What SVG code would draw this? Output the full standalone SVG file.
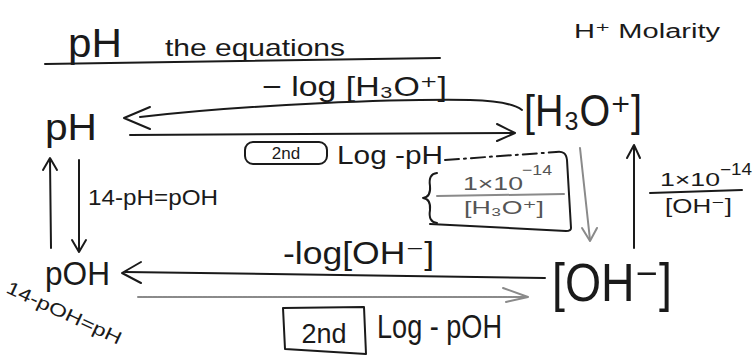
<svg xmlns="http://www.w3.org/2000/svg" width="754" height="358" viewBox="0 0 754 358">
<style>
text{font-family:"Liberation Sans","DejaVu Sans",sans-serif;fill:#1a1a1a}
.ln{fill:none;stroke:#1a1a1a;stroke-width:2;stroke-linecap:round;stroke-linejoin:round}
.gr{fill:none;stroke:#8a8a8a;stroke-width:2;stroke-linecap:round;stroke-linejoin:round}
.gt{fill:#555}
</style>
<rect width="754" height="358" fill="#ffffff"/>
<g id="title">
<text x="68" y="57" font-size="40" textLength="54" lengthAdjust="spacingAndGlyphs">pH</text>
<text x="165" y="56" font-size="24" textLength="180" lengthAdjust="spacingAndGlyphs">the equations</text>
<path class="ln" d="M45,64 L440,58"/>
<text x="574" y="38" font-size="20" textLength="146" lengthAdjust="spacingAndGlyphs">H⁺ Molarity</text>
</g>
<g id="node-pH">
<text x="45" y="140" font-size="36" textLength="52" lengthAdjust="spacingAndGlyphs">pH</text>
</g>
<g id="node-H3O">
<text x="524" y="126" font-size="44" textLength="118" lengthAdjust="spacingAndGlyphs">[H₃O⁺]</text>
</g>
<g id="node-OH">
<text x="552" y="301" font-size="54" textLength="120" lengthAdjust="spacingAndGlyphs">[OH⁻]</text>
</g>
<g id="node-pOH">
<text x="45" y="285" font-size="33" textLength="65" lengthAdjust="spacingAndGlyphs">pOH</text>
</g>
<g id="connectors">
<path class="ln" d="M140,117 C250,104 400,99 470,100 Q510,101 522,110"/>
<path class="ln" d="M150,107 L124,118 L150,129"/>
<path class="ln" d="M130,135 L514,133"/>
<path class="ln" d="M497,124 L515,133 L497,141"/>
<path class="ln" d="M125,272 L545,278"/>
<path class="ln" d="M141,262 L122,273 L141,283"/>
<path class="gr" d="M138,297 L527,297" stroke-dasharray="4 1"/>
<path class="gr" d="M503,288 L528,297 L506,302"/>
<path class="ln" d="M51,248 L50,160"/>
<path class="ln" d="M43,170 L50,158 L57,170"/>
<path class="ln" d="M79,160 L79,250"/>
<path class="ln" d="M72,240 L79,252 L86,240"/>
<path class="gr" d="M580,148 L590,240"/>
<path class="gr" d="M582,228 L590,241 L597,228"/>
<path class="ln" d="M634,248 L634,146"/>
<path class="ln" d="M627,158 L634,145 L640,158"/>
</g>
<g id="label-log-H3O">
<text x="262" y="96" font-size="28" textLength="185" lengthAdjust="spacingAndGlyphs">− log [H₃O⁺]</text>
</g>
<g id="label-2nd-log-pH">
<rect class="ln" x="245" y="142" width="82" height="22" rx="8"/>
<text x="286" y="159" font-size="17" text-anchor="middle">2nd</text>
<text x="337" y="164" font-size="25" textLength="106" lengthAdjust="spacingAndGlyphs">Log -pH</text>
</g>
<g id="label-Kw-H3O">
<path class="ln" d="M445,160 L556,152" stroke-dasharray="14 5 2 5"/>
<path class="ln" d="M556,152 Q566,150 567,160 L571,228 Q571,231 566,231 L430,224"/>
<path class="ln" d="M437,173 Q428,174 430,186 Q431,197 423,198 Q431,199 430,210 Q428,222 437,223"/>
<text x="463" y="190" font-size="18" class="gt" textLength="60" lengthAdjust="spacingAndGlyphs">1×10</text>
<text x="522" y="175" font-size="15" class="gt" textLength="30" lengthAdjust="spacingAndGlyphs">−14</text>
<path class="gr" d="M437,196 L564,194"/>
<text x="464" y="214" font-size="18" class="gt" textLength="80" lengthAdjust="spacingAndGlyphs">[H₃O⁺]</text>
</g>
<g id="label-Kw-OH">
<text x="660" y="186" font-size="19" textLength="60" lengthAdjust="spacingAndGlyphs">1×10</text>
<text x="720" y="175" font-size="16" textLength="32" lengthAdjust="spacingAndGlyphs">−14</text>
<path class="ln" d="M650,193 L742,190"/>
<text x="665" y="213" font-size="20" textLength="67" lengthAdjust="spacingAndGlyphs">[OH⁻]</text>
</g>
<g id="label-14-pH">
<text x="88" y="205" font-size="22" textLength="130" lengthAdjust="spacingAndGlyphs">14-pH=pOH</text>
</g>
<g id="label-14-pOH">
<text x="0" y="0" font-size="18" transform="translate(5,292) rotate(25)" textLength="125" lengthAdjust="spacingAndGlyphs">14-pOH=pH</text>
</g>
<g id="label-log-OH">
<text x="283" y="264" font-size="31" textLength="151" lengthAdjust="spacingAndGlyphs">-log[OH⁻]</text>
</g>
<g id="label-2nd-log-pOH">
<path class="ln" d="M283,308 L364,307 L366,354 L285,349 Z"/>
<text x="324" y="343" font-size="27" text-anchor="middle">2nd</text>
<text x="377" y="338" font-size="34" textLength="125" lengthAdjust="spacingAndGlyphs">Log - pOH</text>
</g>
</svg>
